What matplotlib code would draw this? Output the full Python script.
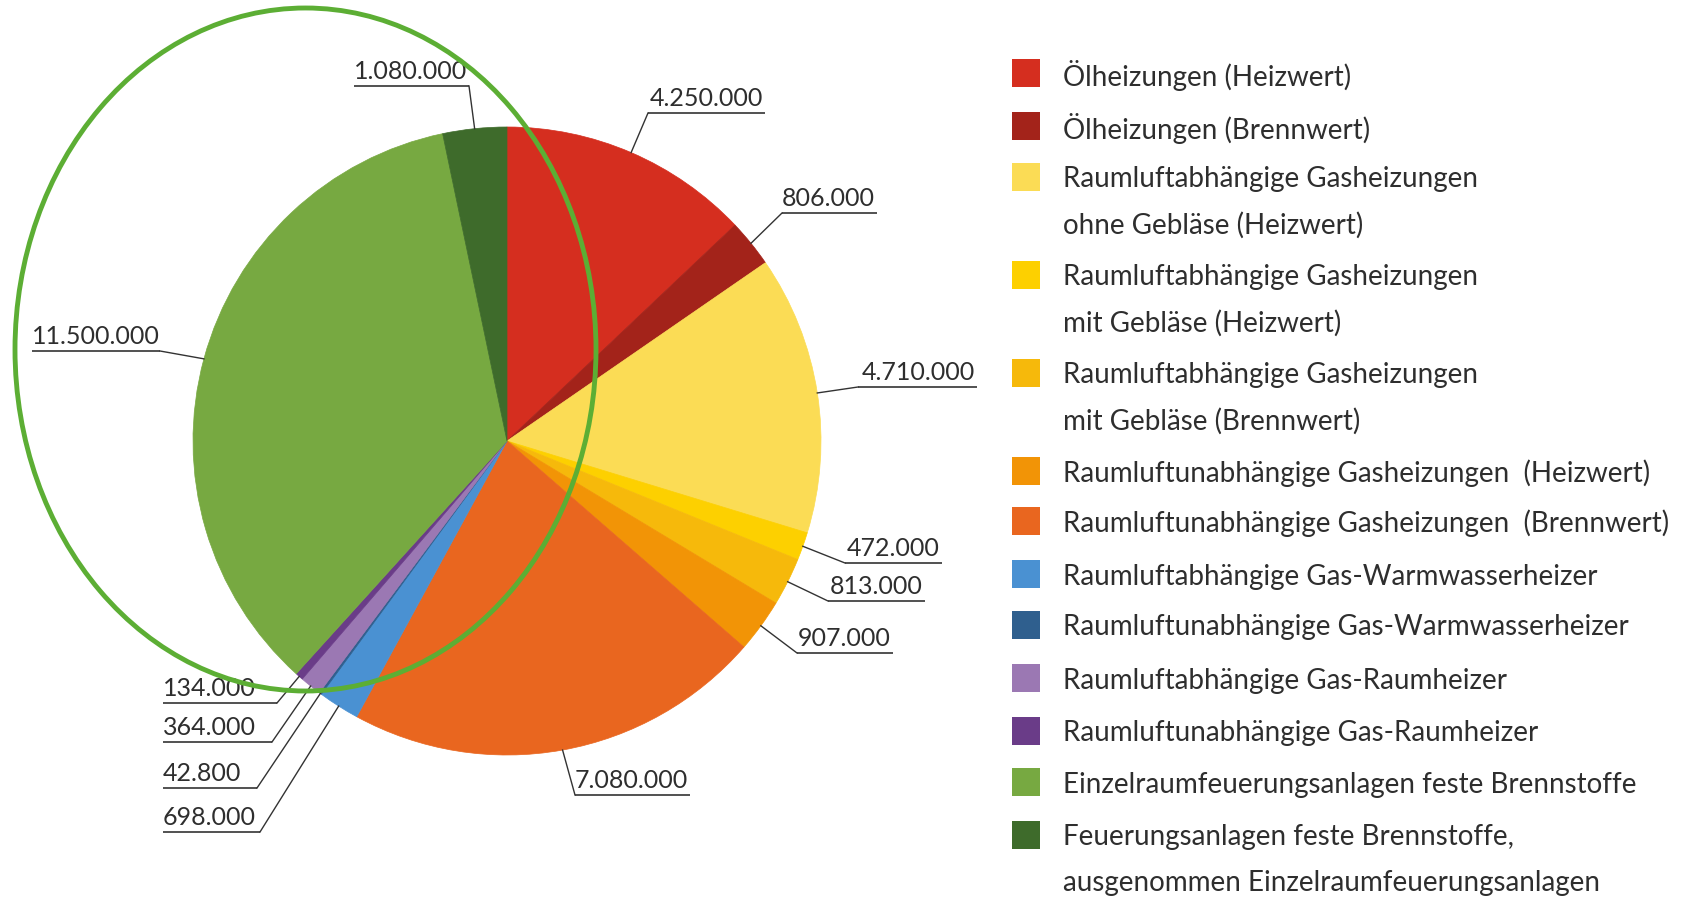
import matplotlib
matplotlib.use("Agg")
import matplotlib.pyplot as plt
from matplotlib import font_manager
from matplotlib.patches import Ellipse, Rectangle
import numpy as np

# ---------------- data ----------------
categories = [
    "Ölheizungen (Heizwert)",
    "Ölheizungen (Brennwert)",
    "Raumluftabhängige Gasheizungen\nohne Gebläse (Heizwert)",
    "Raumluftabhängige Gasheizungen\nmit Gebläse (Heizwert)",
    "Raumluftabhängige Gasheizungen\nmit Gebläse (Brennwert)",
    "Raumluftunabhängige Gasheizungen  (Heizwert)",
    "Raumluftunabhängige Gasheizungen  (Brennwert)",
    "Raumluftabhängige Gas-Warmwasserheizer",
    "Raumluftunabhängige Gas-Warmwasserheizer",
    "Raumluftabhängige Gas-Raumheizer",
    "Raumluftunabhängige Gas-Raumheizer",
    "Einzelraumfeuerungsanlagen feste Brennstoffe",
    "Feuerungsanlagen feste Brennstoffe,\nausgenommen Einzelraumfeuerungsanlagen",
]
values = [4250000, 806000, 4710000, 472000, 813000, 907000, 7080000,
          698000, 42800, 364000, 134000, 11500000, 1080000]
colors = ["#d52e1f", "#a3231a", "#fbdc55", "#fdd000", "#f6b90b", "#f29406",
          "#e9661f", "#4a91d2", "#2f5f8e", "#9b78b3", "#6a3c88", "#77a941",
          "#3e6b2b"]

# ---------------- layout (pixels, y from top) ----------------
W, H = 1684, 900
PIE_CX, PIE_CY, PIE_R = 507, 441, 314
# underline: x0, x1, y, side where the leader attaches
label_layout = [
    (648, 765, 113, "left"),
    (782, 877, 213, "left"),
    (858, 977, 387, "left"),
    (845, 942, 563, "left"),
    (828, 925, 601, "left"),
    (797, 893, 653, "left"),
    (575, 690, 795, "left"),
    (163, 260, 832, "right"),
    (163, 257, 788, "right"),
    (163, 272, 742, "right"),
    (163, 277, 703, "right"),
    (32, 160, 351, "right"),
    (354, 469, 86, "right"),
]
legend_rows = [73, 126, 177, 275, 373, 471, 521, 574, 625, 678, 731, 782, 835]
LEG_LINE = 46
LEG_SQ_X, LEG_SQ = 1012, 28
LEG_TXT_X = 1063
TEXT_COLOR = "#2e2e2e"
LINE_COLOR = "#333333"


def pick(cands):
    for f in cands:
        try:
            font_manager.findfont(font_manager.FontProperties(family=f),
                                  fallback_to_default=False)
            return f
        except Exception:
            pass
    return "DejaVu Sans"


FONT = pick(["Liberation Sans Narrow", "Lato", "Roboto", "DejaVu Sans"])
plt.rcParams["font.family"] = [FONT, "DejaVu Sans"]


def Y(py):
    return H - py


fig = plt.figure(figsize=(W / 100, H / 100), dpi=100)
ax = fig.add_axes([0, 0, 1, 1])

wedges, _ = ax.pie(values, colors=colors, startangle=90, counterclock=False,
                   center=(PIE_CX, Y(PIE_CY)), radius=PIE_R,
                   wedgeprops=dict(linewidth=0.5))
for w, c in zip(wedges, colors):
    w.set_edgecolor(c)

ax.set_xlim(0, W)
ax.set_ylim(0, H)
ax.set_aspect("auto")
ax.axis("off")

# value labels with leader lines
for w, v, (x0, x1, uy, side) in zip(wedges, values, label_layout):
    mid = np.deg2rad((w.theta1 + w.theta2) / 2.0)
    ex = PIE_CX + PIE_R * np.cos(mid)
    ey = Y(PIE_CY) + PIE_R * np.sin(mid)
    ax.plot([x0, x1], [Y(uy), Y(uy)], color=LINE_COLOR, lw=1.2,
            solid_capstyle="butt", zorder=4)
    ax_x = x0 if side == "left" else x1
    ax.plot([ax_x, ex], [Y(uy), ey], color=LINE_COLOR, lw=1.0, zorder=4)
    txt = f"{v:,}".replace(",", ".")
    if side == "left":
        ax.text(x1 - 2, Y(uy) + 7, txt, ha="right", va="baseline",
                fontsize=18, color=TEXT_COLOR, zorder=5)
    else:
        ax.text(x0, Y(uy) + 7, txt, ha="left", va="baseline",
                fontsize=18, color=TEXT_COLOR, zorder=5)

# legend
for cat, col, ry in zip(categories, colors, legend_rows):
    ax.add_patch(Rectangle((LEG_SQ_X, Y(ry) - LEG_SQ / 2), LEG_SQ, LEG_SQ,
                           facecolor=col, edgecolor="none"))
    for k, line in enumerate(cat.split("\n")):
        ax.text(LEG_TXT_X, Y(ry + k * LEG_LINE), line, ha="left",
                va="center_baseline", fontsize=20, color=TEXT_COLOR)

# green highlight ellipse
ax.add_patch(Ellipse((305.5, Y(349.5)), width=581, height=683, fill=False,
                     edgecolor="#5cae34", lw=3.5, zorder=10))

fig.savefig("out.png", dpi=100)
